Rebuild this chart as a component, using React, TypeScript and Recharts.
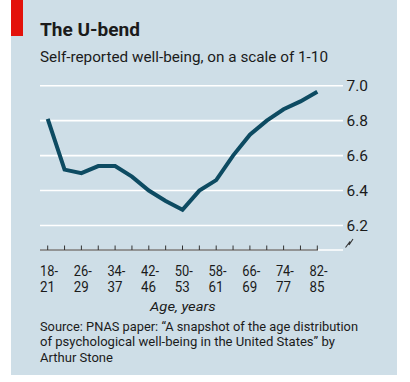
import React from "react";
import { LineChart, Line, XAxis, YAxis, CartesianGrid, ReferenceLine } from "recharts";

const ageGroups = [
  "18-21", "22-25", "26-29", "30-33", "34-37", "38-41", "42-46", "47-49",
  "50-53", "54-57", "58-61", "62-65", "66-69", "70-73", "74-77", "78-81", "82-85",
];
const wellBeing = [
  6.81, 6.52, 6.5, 6.54, 6.54, 6.48, 6.4, 6.34,
  6.29, 6.4, 6.46, 6.6, 6.72, 6.8, 6.865, 6.91, 6.965,
];
const yTicks = [6.2, 6.4, 6.6, 6.8, 7.0];

const data = ageGroups.map((g, i) => ({ i, group: g, value: wellBeing[i] }));
const xTicks = ageGroups.map((_, i) => i);

const FONT = "Roboto, 'Noto Sans', sans-serif";
const TEXT = "#1b1b1b";
const ADJ = "spacingAndGlyphs";

const XTick = (props: any) => {
  const { x, y, payload } = props;
  const idx = payload.value as number;
  const label = ageGroups[idx];
  const parts = label ? label.split("-") : ["", ""];
  return (
    <g>
      <line x1={x} x2={x} y1={y - 4.5} y2={y} stroke="#333" strokeWidth={1} />
      {idx % 2 === 0 && (
        <g fill={TEXT} fontSize={14} fontFamily={FONT}>
          <text x={x - 7.7} y={y + 25.7} textLength={18} lengthAdjust={ADJ}>{parts[0] + "-"}</text>
          <text x={x - 7.7} y={y + 41.7} textLength={15} lengthAdjust={ADJ}>{parts[1]}</text>
        </g>
      )}
    </g>
  );
};

const YTick = (props: any) => {
  const { y, payload } = props;
  return (
    <text x={346.5} y={y + 5.2} fill={TEXT} fontSize={14.5} fontFamily={FONT} textLength={21.5} lengthAdjust={ADJ}>
      {payload.value.toFixed(1)}
    </text>
  );
};

export default function App() {
  return (
    <div style={{ position: "absolute", left: 0, top: 0, width: 410, height: 382, background: "#fff" }}>
      <div style={{ position: "absolute", left: 11, top: 0, width: 386, height: 375, background: "#cedee7" }} />
      <div style={{ position: "absolute", left: 11, top: 0, width: 12, height: 36, background: "#e3120b" }} />
      <div style={{ position: "absolute", left: 0, top: 0 }}>
        <LineChart
          width={410}
          height={382}
          data={data}
          margin={{ top: 85.7, right: 17, bottom: 102, left: 40 }}
        >
          <CartesianGrid horizontal vertical={false} stroke="#ffffff" strokeWidth={1.6} />
          <XAxis
            dataKey="i"
            type="number"
            domain={[-0.457, 17.525]}
            ticks={xTicks}
            interval={0}
            axisLine={false}
            tickLine={false}
            tickSize={0}
            tickMargin={0}
            height={30}
            tick={<XTick />}
            allowDataOverflow
          />
          <YAxis
            orientation="right"
            domain={[6.06, 7.0]}
            ticks={yTicks}
            axisLine={false}
            tickLine={false}
            width={50}
            tick={<YTick />}
            allowDataOverflow
          />
          <ReferenceLine
            segment={[{ x: -0.457, y: 6.06 }, { x: 16.04, y: 6.06 }]}
            stroke="#333"
            strokeWidth={1}
            ifOverflow="visible"
          />
          <Line
            type="linear"
            dataKey="value"
            stroke="#0d4b62"
            strokeWidth={4}
            dot={false}
            isAnimationActive={false}
          />
        </LineChart>
      </div>
      <svg width={410} height={382} style={{ position: "absolute", left: 0, top: 0, pointerEvents: "none" }}>
        <g fill={TEXT} fontFamily={FONT}>
          <text x={40} y={36} fontSize={18.5} fontWeight="bold" textLength={100} lengthAdjust={ADJ}>The U-bend</text>
          <text x={40} y={61.7} fontSize={14} textLength={288} lengthAdjust={ADJ}>Self-reported well-being, on a scale of 1-10</text>
          <text x={150} y={310.7} fontSize={13.5} fontStyle="italic" textLength={65.7} lengthAdjust={ADJ}>Age, years</text>
          <text x={40} y={331} fontSize={13.5} textLength={318} lengthAdjust={ADJ}>Source: PNAS paper: “A snapshot of the age distribution</text>
          <text x={40} y={346.2} fontSize={13.5} textLength={295} lengthAdjust={ADJ}>of psychological well-being in the United States” by</text>
          <text x={40} y={361.5} fontSize={13.5} textLength={73} lengthAdjust={ADJ}>Arthur Stone</text>
        </g>
        <path d="M345.5 247.5 L350 241.5 L349 245 L353 239" fill="none" stroke="#333" strokeWidth={1.1} />
      </svg>
    </div>
  );
}
